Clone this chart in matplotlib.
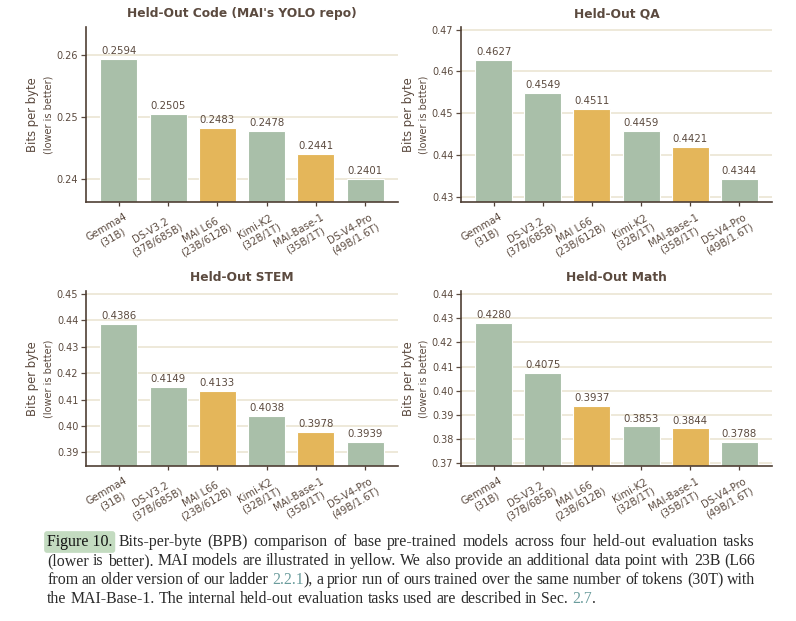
import matplotlib
matplotlib.use("Agg")
import matplotlib.pyplot as plt
from matplotlib.transforms import ScaledTranslation

# ---------------- data ----------------
models = ["Gemma4\n(31B)", "DS-V3.2\n(37B/685B)", "MAI L66\n(23B/612B)",
          "Kimi-K2\n(32B/1T)", "MAI-Base-1\n(35B/1T)", "DS-V4-Pro\n(49B/1.6T)"]
is_mai = [False, False, True, False, True, False]

code_bpb = [0.2594, 0.2505, 0.2483, 0.2478, 0.2441, 0.2401]
qa_bpb = [0.4627, 0.4549, 0.4511, 0.4459, 0.4421, 0.4344]
stem_bpb = [0.4386, 0.4149, 0.4133, 0.4038, 0.3978, 0.3939]
math_bpb = [0.4280, 0.4075, 0.3937, 0.3853, 0.3844, 0.3788]

titles = ["Held-Out Code (MAI's YOLO repo)", "Held-Out QA", "Held-Out STEM", "Held-Out Math"]
code_ticks = [0.24, 0.25, 0.26]
qa_ticks = [0.43, 0.44, 0.45, 0.46, 0.47]
stem_ticks = [0.39, 0.40, 0.41, 0.42, 0.43, 0.44, 0.45]
math_ticks = [0.37, 0.38, 0.39, 0.40, 0.41, 0.42, 0.43, 0.44]
code_ylim = (0.2363, 0.2646)
qa_ylim = (0.4289, 0.4706)
stem_ylim = (0.3849, 0.4510)
math_ylim = (0.3689, 0.4412)

# ---------------- style ----------------
GREEN = "#a9bfa9"
YELLOW = "#e4b65a"
BROWN = "#5b4a3f"
SPINE = "#4f3f35"
GRID = "#ebe5d3"

W, H = 796, 621
fig = plt.figure(figsize=(W / 100, H / 100), dpi=100)


def px_axes(x0, y0, x1, y1):
    return fig.add_axes([x0 / W, 1 - y1 / H, (x1 - x0) / W, (y1 - y0) / H])


panels = [
    (px_axes(86, 27, 398, 202), code_bpb, titles[0], code_ticks, code_ylim),
    (px_axes(461, 27, 772, 202), qa_bpb, titles[1], qa_ticks, qa_ylim),
    (px_axes(86, 291, 398, 466), stem_bpb, titles[2], stem_ticks, stem_ylim),
    (px_axes(461, 291, 772, 466), math_bpb, titles[3], math_ticks, math_ylim),
]

colors = [YELLOW if m else GREEN for m in is_mai]
xpos = list(range(len(models)))
shift = ScaledTranslation(5 / 100, 0, fig.dpi_scale_trans)

for ax, vals, title, ticks, ylim in panels:
    ax.set_axisbelow(True)
    ax.bar(xpos, vals, width=0.75, color=colors, edgecolor="white", linewidth=0.8, zorder=2)
    ax.set_ylim(*ylim)
    ax.set_yticks(ticks)
    ax.set_yticklabels([f"{t:.2f}" for t in ticks])
    ax.yaxis.grid(True, color=GRID, linewidth=1.2, zorder=0)
    ax.xaxis.grid(False)
    for v, xx in zip(vals, xpos):
        ax.annotate(f"{v:.4f}", (xx, v), xytext=(0, 2), textcoords="offset points",
                    ha="center", va="bottom", fontsize=7.3, color=BROWN)
    ax.set_xticks(xpos)
    ax.set_xticklabels(models, rotation=30, ha="right", rotation_mode="anchor",
                       fontsize=7.2, color=BROWN, multialignment="center")
    ax.tick_params(axis="y", labelsize=7.0, colors=BROWN, length=3.5, width=0.9, pad=2)
    ax.tick_params(axis="x", length=3, width=0.9, colors=SPINE, pad=4)
    for lbl in ax.get_xticklabels():
        lbl.set_color(BROWN)
        lbl.set_transform(lbl.get_transform() + shift)
    for lbl in ax.get_yticklabels():
        lbl.set_color(BROWN)
    for s in ["top", "right"]:
        ax.spines[s].set_visible(False)
    for s in ["left", "bottom"]:
        ax.spines[s].set_color(SPINE)
        ax.spines[s].set_linewidth(1.2)
    ax.set_title(title, fontsize=8.8, fontweight="bold", color=BROWN, pad=7)
    ax.text(-0.17, 0.5, "Bits per byte", rotation=90, ha="center", va="center",
            fontsize=8.4, color=BROWN, transform=ax.transAxes)
    ax.text(-0.12, 0.5, "(lower is better)", rotation=90, ha="center", va="center",
            fontsize=7.0, color=BROWN, transform=ax.transAxes)

# ---------------- caption ----------------
TXT = "#2a2a2a"
LINK = "#6a9c9c"
FS = 11.4
FONT = "Liberation Serif"

# each line: list of (text, style, space_before)
cap_lines = [
    [("Figure 10.", "fig", False), ("Bits-per-byte (BPB) comparison of base pre-trained models across four held-out evaluation tasks", "n", True)],
    [("(lower is better). MAI models are illustrated in yellow. We also provide an additional data point with 23B (L66", "n", False)],
    [("from an older version of our ladder", "n", False), ("2.2.1", "link", True), ("), a prior run of ours trained over the same number of tokens (30T) with", "n", False)],
    [("the MAI-Base-1. The internal held-out evaluation tasks used are described in Sec.", "n", False), ("2.7", "link", True), (".", "n", False)],
]
baselines = [546, 565, 584, 603]
x_left, x_right = 47, 755

fig.canvas.draw()
renderer = fig.canvas.get_renderer()


def make_text(x, y, s, style):
    kw = dict(fontsize=FS, family=FONT, color=TXT, va="baseline", ha="left")
    if style == "link":
        kw["color"] = LINK
    if style == "fig":
        kw["color"] = "#111111"
        kw["bbox"] = dict(boxstyle="round,pad=0.18", fc="#c3dbc0", ec="none")
    return fig.text(x / W, 1 - y / H, s, **kw)


def width_of(s, style):
    t = make_text(0, 0, s, style)
    t.set_bbox(None)
    w = t.get_window_extent(renderer).width
    t.remove()
    return w


space_w = width_of("a b", "n") - width_of("ab", "n")

for li, (segs, yb) in enumerate(zip(cap_lines, baselines)):
    tokens = []  # [text, style, glue_before]
    for s, st, sp in segs:
        if st == "fig":
            words = [s]
        else:
            words = s.split(" ")
        for wi, wd in enumerate(words):
            if wd == "":
                continue
            glue = sp if wi == 0 else True
            tokens.append([wd, st, glue if tokens else False])
    widths = [width_of(t[0], t[1]) for t in tokens]
    n_gaps = sum(1 for t in tokens if t[2])
    last = li == len(cap_lines) - 1
    if last or n_gaps == 0:
        gap = space_w
    else:
        gap = (x_right - x_left - sum(widths)) / n_gaps
    x = x_left
    for (wd, st, glue), w in zip(tokens, widths):
        if glue:
            x += gap
        make_text(x, yb, wd, st)
        x += w

fig.savefig("out.png", dpi=100)
